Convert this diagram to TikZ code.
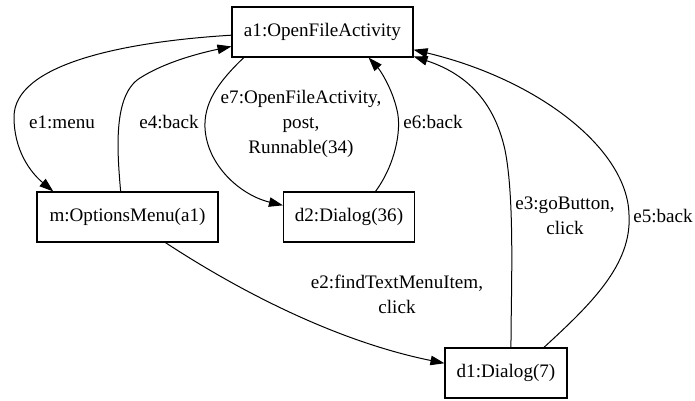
\documentclass[tikz,border=0pt]{standalone}
\usepackage{fontspec}
\setmainfont{Liberation Serif}
\usetikzlibrary{arrows.meta}
\tikzset{state/.style = {draw, line width=1.1pt, minimum height=50pt, inner xsep=2pt,
                         font=\fontsize{19.1}{24}\selectfont},
         lbl/.style   = {align=center, inner sep=0pt, font=\fontsize{19.1}{25}\selectfont},
         trans/.style = {line width=1pt, -{Triangle[length=14pt,width=9.5pt]}}}

\begin{document}
\begin{tikzpicture}[x=1pt,y=-1pt]
    \useasboundingbox (0,0) rectangle (695,400);

    \node[state,minimum width=181pt] (a1) at (322.5,32) {a1:OpenFileActivity};
    \node[state,minimum width=181pt] (m) at (127.5,217) {m:OptionsMenu(a1)};
    \node[state,minimum width=131pt] (d2) at (349,217) {d2:Dialog(36)};
    \node[state,minimum width=122pt] (d1) at (506,373) {d1:Dialog(7)};

    % e1 and e4, between a1 and the menu
    \draw[trans] (a1.182) .. controls (120,42) and (14,65) .. (14,117)
                          .. controls (14,150) and (30,172) .. (m.161);
    \draw[trans] (m.105) .. controls (117,150) and (113,95) .. (140,78)
                         .. controls (165,62) and (200,53) .. (a1.189);

    % e7 and e6, between a1 and d2
    \draw[trans] (a1.198) .. controls (215,85) and (204,105) .. (205,128)
                          .. controls (207,165) and (240,195) .. (d2.170);
    \draw[trans] (d2.44) .. controls (395,165) and (402,130) .. (397,110)
                         .. controls (392,88) and (380,70) .. (a1.331);

    % e2, e3 and e5 with d1
    \draw[trans] (m.326) .. controls (230,285) and (330,340) .. (d1.171);
    \draw[trans] (d1.79) .. controls (511,290) and (515,200) .. (505,150)
                         .. controls (495,105) and (470,75) .. (a1.345);
    \draw[trans] (d1.34) .. controls (590,305) and (632,265) .. (629,215)
                         .. controls (628,150) and (540,80) .. (a1.349);

    \node[lbl] (l1) at (62,122) {e1:menu};
    \node[lbl] (l4) at (169,122) {e4:back};
    \node[lbl] (l7) at (301,124) {e7:OpenFileActivity,\\post,\\Runnable(34)};
    \node[lbl] (l6) at (433,122) {e6:back};
    \node[lbl] (l2) at (397,294) {e2:findTextMenuItem,\\click};
    \node[lbl] (l3) at (565,216) {e3:goButton,\\click};
    \node[lbl] (l5) at (663,216) {e5:back};
\end{tikzpicture}
\end{document}
